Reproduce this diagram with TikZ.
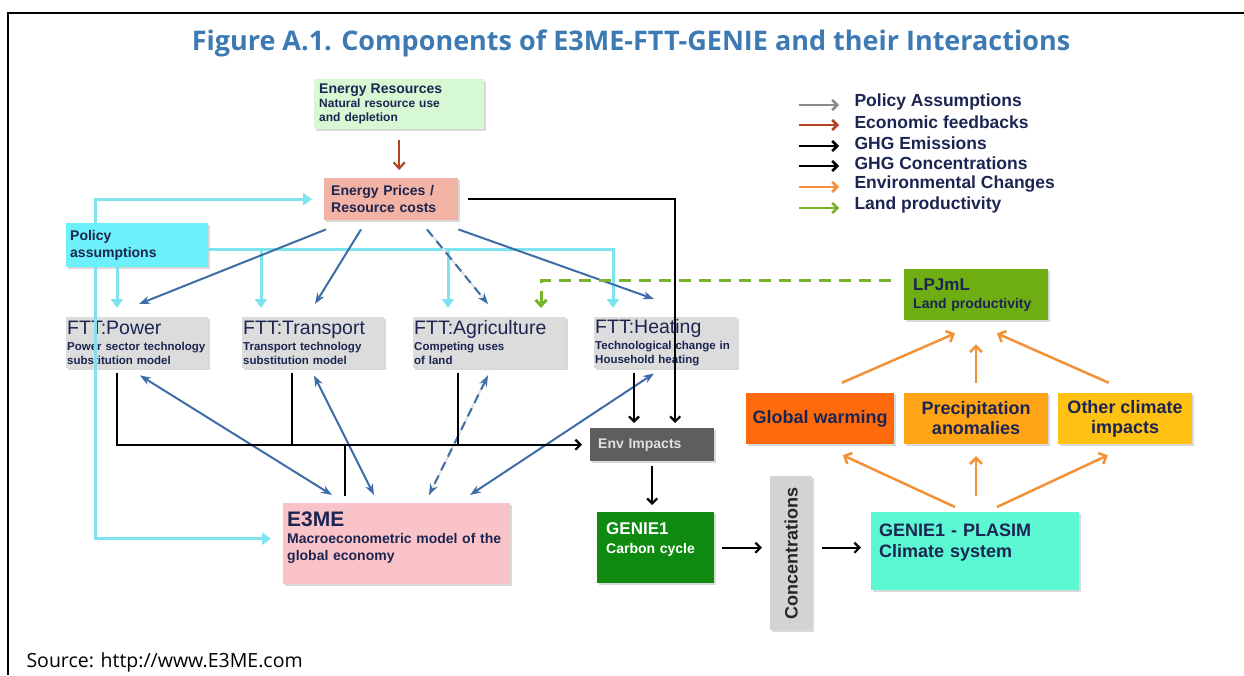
\documentclass[tikz,border=0pt]{standalone}
\usepackage{fontspec}
\usepackage{graphicx}
\setmainfont{Liberation Sans}
\newfontfamily\headfont{Open Sans}
\usetikzlibrary{arrows.meta,shadows}

\definecolor{txtnavy}{HTML}{1C2551}
\definecolor{headblue}{HTML}{3D7AB3}
\definecolor{cyanln}{HTML}{7DE4EF}
\definecolor{blueln}{HTML}{3D6CA6}
\definecolor{orangeln}{HTML}{F39136}
\definecolor{greenln}{HTML}{78B32A}
\definecolor{redln}{HTML}{B4441F}
\definecolor{grayln}{HTML}{8C8C8C}
\definecolor{resfill}{HTML}{D6F8D3}
\definecolor{pricefill}{HTML}{F3B3A4}
\definecolor{policyfill}{HTML}{6CF0FA}
\definecolor{fttfill}{HTML}{DCDCDC}
\definecolor{e3mefill}{HTML}{FAC3C7}
\definecolor{envfill}{HTML}{5E5E5E}
\definecolor{geniefill}{HTML}{0E8A10}
\definecolor{plasimfill}{HTML}{5CF8D3}
\definecolor{concfill}{HTML}{D3D3D3}
\definecolor{gwfill}{HTML}{FF6A0D}
\definecolor{precfill}{HTML}{FFA414}
\definecolor{otherfill}{HTML}{FFC212}
\definecolor{lpjfill}{HTML}{6EAE12}

\newcommand{\fsz}[2]{\fontsize{#1}{#2}\selectfont}

\tikzset{
	box/.style={rectangle, inner sep=0pt, anchor=north west, align=left, text=txtnavy, font=\bfseries\fsz{12}{14}, drop shadow={shadow xshift=2pt, shadow yshift=-2pt, opacity=0.3}},
	climbox/.style={rectangle, inner sep=0pt, align=center, text=txtnavy, font=\bfseries\fsz{18}{20}, minimum height=51pt, drop shadow={shadow xshift=2pt, shadow yshift=-2pt, opacity=0.3}},
	fttbox/.style={box, fill=fttfill, minimum height=51pt, font=\bfseries\fsz{11.5}{14}},
	legtxt/.style={anchor=west, text=txtnavy, font=\bfseries\fsz{17.5}{20}},
	blk/.style={line width=2.2pt, black, -{Straight Barb[length=5pt,width=10pt]}},
	blkline/.style={line width=2.2pt, black},
	blu/.style={line width=2pt, blueln, -{Stealth[length=11pt,width=8pt]}},
	bluboth/.style={line width=2pt, blueln, {Stealth[length=11pt,width=8pt]}-{Stealth[length=11pt,width=8pt]}},
	cya/.style={line width=3pt, cyanln, -{Triangle[length=9pt,width=12pt]}},
	cyaline/.style={line width=3pt, cyanln},
	org/.style={line width=2.5pt, orangeln, -{Straight Barb[length=6pt,width=12pt]}},
	grn/.style={line width=3pt, greenln, dash pattern=on 12pt off 8pt, -{Straight Barb[length=6pt,width=11pt]}},
	redarr/.style={line width=2.2pt, redln, -{Straight Barb[length=6pt,width=11pt]}},
}

\begin{document}
\begin{tikzpicture}[x=1pt,y=-1pt]
			%%%%% START %%%%%
			\useasboundingbox (0,0) rectangle (1244,675);
			\draw[line width=2pt] (8,675) -- (8,13) -- (1244,13);
			
			\node[font=\headfont\bfseries\fsz{27}{30}, text=headblue] (title) at (631,43) {Figure A.1. Components of E3ME-FTT-GENIE and their Interactions};
			\node[anchor=west, font=\headfont\fsz{19.5}{22}] (src) at (23,662) {Source: http://www.E3ME.com};
			
			% legend
			\node[legtxt] (lg1) at (851,102) {Policy Assumptions};
			\node[legtxt] (lg2) at (851,122) {Economic feedbacks};
			\node[legtxt] (lg3) at (851,143) {GHG Emissions};
			\node[legtxt] (lg4) at (851,163) {GHG Concentrations};
			\node[legtxt] (lg5) at (851,184) {Environmental Changes};
			\node[legtxt] (lg6) at (851,205) {Land productivity};
			\draw[line width=2.5pt, grayln, -{Straight Barb[length=5pt,width=10pt]}] ([xshift=-52pt,yshift=-3pt]lg1.west) -- ([xshift=-12pt,yshift=-3pt]lg1.west);
			\draw[line width=2.5pt, redln, -{Straight Barb[length=5pt,width=10pt]}] ([xshift=-52pt,yshift=-3pt]lg2.west) -- ([xshift=-12pt,yshift=-3pt]lg2.west);
			\draw[line width=2.5pt, black, -{Straight Barb[length=5pt,width=10pt]}] ([xshift=-52pt,yshift=-3pt]lg3.west) -- ([xshift=-12pt,yshift=-3pt]lg3.west);
			\draw[line width=2.5pt, black, -{Straight Barb[length=5pt,width=10pt]}] ([xshift=-52pt,yshift=-3pt]lg4.west) -- ([xshift=-12pt,yshift=-3pt]lg4.west);
			\draw[line width=2.5pt, orangeln, -{Straight Barb[length=5pt,width=10pt]}] ([xshift=-52pt,yshift=-3pt]lg5.west) -- ([xshift=-12pt,yshift=-3pt]lg5.west);
			\draw[line width=2.5pt, greenln, -{Straight Barb[length=5pt,width=10pt]}] ([xshift=-52pt,yshift=-3pt]lg6.west) -- ([xshift=-12pt,yshift=-3pt]lg6.west);
			
			% boxes
			\node[box, fill=resfill, minimum width=170pt, minimum height=50pt, text width=160pt] (res) at (314,79) {{\fsz{14}{16}Energy Resources}\\Natural resource use\\and depletion};
			\node[box, fill=pricefill, minimum width=134pt, minimum height=42pt, text width=120pt, font=\bfseries\fsz{14}{17}] (price) at (324,178) {Energy Prices /\\Resource costs};
			\node[box, fill=policyfill, minimum width=142pt, minimum height=44pt, text width=134pt, font=\bfseries\fsz{14}{17}] (policy) at (66,223) {Policy\\assumptions};
			
			\node[fttbox, minimum width=142pt, text width=140pt] (power) at (66,317) {{\mdseries\fsz{19.5}{20}FTT:Power}\\[2pt]Power sector technology\\substitution model};
			\node[fttbox, minimum width=142pt, text width=140pt] (trans) at (242,317) {{\mdseries\fsz{19.5}{20}FTT:Transport}\\[2pt]Transport technology\\substitution model};
			\node[fttbox, minimum width=153pt, text width=151pt] (agri) at (413,317) {{\mdseries\fsz{19.5}{20}FTT:Agriculture}\\[2pt]Competing uses\\of land};
			\node[fttbox, minimum width=143pt, text width=141pt] (heat) at (594,317) {{\mdseries\fsz{19.5}{20}FTT:Heating}\\[2pt]Technological change in\\Household heating};
			
			\node[box, fill=e3mefill, minimum width=227pt, minimum height=81pt, text width=219pt, font=\bfseries\fsz{14}{17}] (e3me) at (283,503) {{\fsz{21}{22}E3ME}\\Macroeconometric model of the\\global economy\\[-2pt]\mbox{}};
			\node[box, fill=envfill, minimum width=124pt, minimum height=33pt, text width=108pt, text=white!88!black, font=\bfseries\fsz{14}{16}] (env) at (590,428) {Env Impacts};
			\node[box, fill=geniefill, minimum width=117pt, minimum height=71pt, text width=99pt, text=white, font=\bfseries\fsz{14}{19}] (genie) at (597,512) {{\fsz{17}{19}GENIE1}\\Carbon cycle\\\mbox{}};
			\node[box, fill=concfill, minimum width=42pt, minimum height=154pt, align=center, text=black!85, font=\bfseries\fsz{18}{20}] (conc) at (770,476) {\rotatebox{90}{Concentrations}};
			\node[box, fill=plasimfill, minimum width=208pt, minimum height=78pt, text width=192pt, font=\bfseries\fsz{18}{21}] (plasim) at (871,512) {GENIE1 - PLASIM\\Climate system\\\mbox{}};
			
			\node[climbox, fill=gwfill, minimum width=148pt] (gw) at (820,418.5) {Global warming};
			\node[climbox, fill=precfill, minimum width=144pt] (prec) at (976,418.5) {Precipitation\\anomalies};
			\node[climbox, fill=otherfill, minimum width=134pt] (other) at (1125,418.5) {Other climate\\impacts};
			\node[box, fill=lpjfill, minimum width=144pt, minimum height=51pt, text width=126pt, font=\bfseries\fsz{14}{18}] (lpj) at (904,269) {{\fsz{17}{19}LPJmL}\\Land productivity};
			
			% policy assumptions
			\draw[cya] ([xshift=29pt]policy.north west) |- ([xshift=-12pt]price.west);
			\draw[cya] ([xshift=29pt]policy.south west) |- ([xshift=-12pt,yshift=5pt]e3me.west);
			\draw[cya] ([xshift=51pt]policy.south west) -- ([xshift=51pt,yshift=9pt]power.north west);
			\draw[cya] ([yshift=-4pt]policy.east) -| ([xshift=19pt,yshift=9pt]heat.north west);
			\draw[cya] ([xshift=19pt,yshift=-4pt]trans.north west |- policy.east) -- ([xshift=19pt,yshift=9pt]trans.north west);
			\draw[cya] ([xshift=35pt,yshift=-4pt]agri.north west |- policy.east) -- ([xshift=35pt,yshift=9pt]agri.north west);
			
			% economic feedbacks
			\draw[redarr] ([yshift=-11pt]res.south) -- ([yshift=8pt]res.south |- price.north);
			\draw[blu] ([xshift=2pt,yshift=-9pt]price.south west) -- ([xshift=73pt,yshift=13pt]power.north west);
			\draw[blu] ([xshift=37pt,yshift=-9pt]price.south west) -- ([xshift=73pt,yshift=13pt]trans.north west);
			\draw[line width=2pt, black!12] ([xshift=103pt,yshift=-9pt]price.south west) -- ([xshift=75pt,yshift=13pt]agri.north west);
			\draw[blu, dash pattern=on 9pt off 6pt] ([xshift=103pt,yshift=-9pt]price.south west) -- ([xshift=75pt,yshift=13pt]agri.north west);
			\draw[blu] ([yshift=-9pt]price.south east) -- ([xshift=60pt,yshift=18pt]heat.north west);
			
			\draw[bluboth] ([xshift=74pt,yshift=-7pt]power.south west) -- ([xshift=49pt,yshift=8pt]e3me.north west);
			\draw[bluboth] ([xshift=72pt,yshift=-7pt]trans.south west) -- ([xshift=91pt,yshift=8pt]e3me.north west);
			\draw[line width=2pt, black!12] ([xshift=75pt,yshift=-7pt]agri.south west) -- ([xshift=146pt,yshift=8pt]e3me.north west);
			\draw[bluboth, dash pattern=on 9pt off 6pt] ([xshift=75pt,yshift=-7pt]agri.south west) -- ([xshift=146pt,yshift=8pt]e3me.north west);
			\draw[bluboth] ([xshift=60pt,yshift=-5pt]heat.south west) -- ([xshift=187pt,yshift=8pt]e3me.north west);
			
			% emissions
			\draw[blk] ([xshift=10pt]price.east) -| ([xshift=23pt,yshift=5pt]env.north);
			\draw[blk] ([xshift=51pt,yshift=-5pt]power.south west) |- ([xshift=-8pt]env.west);
			\draw[blkline] ([xshift=50pt,yshift=-5pt]trans.south west) -- ([xshift=50pt]trans.south west |- env.west);
			\draw[blkline] ([xshift=45pt,yshift=-5pt]agri.south west) -- ([xshift=45pt]agri.south west |- env.west);
			\draw[blkline] ([xshift=62pt]e3me.north west |- env.west) -- ([xshift=62pt,yshift=7pt]e3me.north west);
			\draw[blk] ([xshift=40pt,yshift=-5pt]heat.south west) -- ([xshift=40pt,yshift=5pt]heat.south west |- env.north);
			\draw[blk] ([yshift=-5pt]env.south) -- ([yshift=7pt]env.south |- genie.north);
			
			% concentrations
			\draw[blk] ([xshift=8pt]genie.east) -- ([xshift=-8pt]conc.west |- genie.east);
			\draw[blk] ([xshift=10pt]conc.east |- genie.east) -- ([xshift=-10pt]plasim.west |- genie.east);
			
			% environmental changes
			\draw[org] ([xshift=84pt,yshift=5pt]plasim.north west) -- ([xshift=97pt,yshift=-11pt]gw.south west);
			\draw[org] ([yshift=16pt]prec.south |- plasim.north) -- ([yshift=-12pt]prec.south);
			\draw[org] ([xshift=126pt,yshift=5pt]plasim.north west) -- ([xshift=50pt,yshift=-11pt]other.south west);
			\draw[org] ([xshift=96pt,yshift=10pt]gw.north west) -- ([xshift=51pt,yshift=-13pt]lpj.south west);
			\draw[org] ([yshift=10pt]prec.north) -- ([yshift=-24pt]prec.north |- lpj.south);
			\draw[org] ([xshift=51pt,yshift=10pt]other.north west) -- ([xshift=93pt,yshift=-13pt]lpj.south west);
			
			% land productivity
			\draw[grn] ([xshift=-13pt,yshift=14pt]lpj.west) -| ([xshift=128pt,yshift=9pt]agri.north west);
			%%%%% END %%%%%
\end{tikzpicture}
\end{document}
